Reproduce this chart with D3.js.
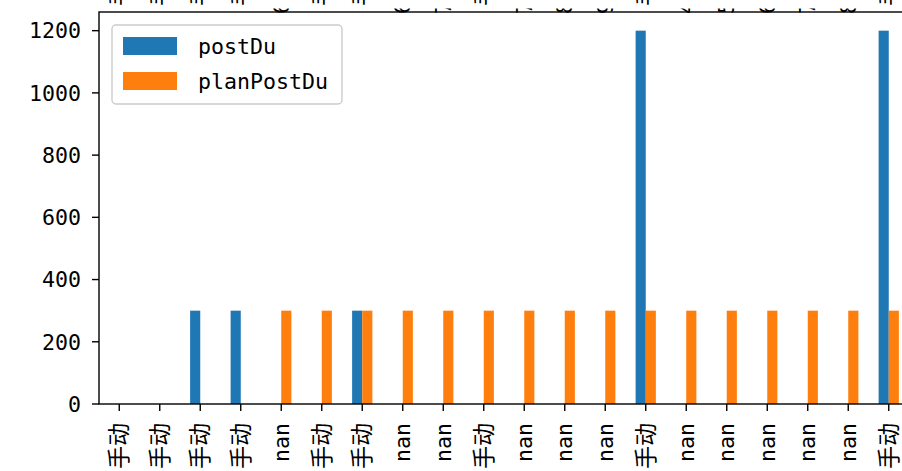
<!DOCTYPE html>
<html>
<head>
<meta charset="utf-8">
<script src="https://cdn.jsdelivr.net/npm/d3@7"></script>
<style>
  body { margin: 0; background: #fff; }
  svg { display: block; }
</style>
</head>
<body>
<div id="chart"></div>
<script>
// categories along the x axis
var categories = ["手动", "手动", "手动", "手动", "nan", "手动", "手动", "nan", "nan", "手动",
                  "nan", "nan", "nan", "手动", "nan", "nan", "nan", "nan", "nan", "手动"];
// null = missing value (no bar)
var postDu = [null, null, 300, 300, null, null, 300, null, null, null,
              null, null, null, 1200, null, null, null, null, null, 1200];
var planPostDu = [null, null, null, null, 300, 300, 300, 300, 300, 300,
                  300, 300, 300, 300, 300, 300, 300, 300, 300, 300];
var seriesNames = ["postDu", "planPostDu"];
var yTicks = [0, 200, 400, 600, 800, 1000, 1200];
// leftovers of the tick labels of the chart above (only their first glyph shows)
var upperLabels = ["手动", "手动", "手动", "手动", "6", "手动", "手动", "6", "7", "手动",
                   "7", "8", "9", "手动", "4", "5", "6", "7", "8", "手动"];

var WIDTH = 902, HEIGHT = 471;
var LEFT = 99, RIGHT = 909, TOP = 12, BOTTOM = 404;
var COLORS = ["#1f77b4", "#ff7f0e"];
var LATIN = "'DejaVu Sans Mono', 'Noto Sans CJK SC', monospace";
var CJK = "'Noto Sans CJK SC', 'DejaVu Sans Mono', sans-serif";

var svg = d3.select("#chart").append("svg")
    .attr("width", WIDTH)
    .attr("height", HEIGHT);

var x = d3.scaleLinear().domain([-0.5, categories.length - 0.5]).range([LEFT, RIGHT]);
var y = d3.scaleLinear().domain([0, 1260]).range([BOTTOM, TOP]);
var barW = 0.25;

// upper chart label fragments: chinese ones stick out of the top,
// digit ones only show a thin slice just above the top spine
svg.append("clipPath").attr("id", "digitclip")
    .append("rect").attr("x", 0).attr("y", 8.5).attr("width", WIDTH).attr("height", 6);

var upper = upperLabels.map(function(d, i) { return {i: i, t: d}; });
svg.append("g").selectAll("text")
    .data(upper.filter(function(d) { return d.t === "手动"; }))
    .enter().append("text")
    .attr("transform", function(d) { return "translate(" + x(d.i) + ",6) rotate(-90)"; })
    .attr("dy", "0.35em")
    .style("font-family", CJK)
    .style("font-size", "23px")
    .text(function(d) { return d.t; });
svg.append("g").attr("clip-path", "url(#digitclip)").selectAll("text")
    .data(upper.filter(function(d) { return d.t !== "手动"; }))
    .enter().append("text")
    .attr("transform", function(d) { return "translate(" + x(d.i) + ",14) rotate(-90)"; })
    .attr("dy", "0.35em")
    .style("font-family", LATIN)
    .style("font-size", "21.6px")
    .text(function(d) { return d.t; });

// bars, one group per series
[postDu, planPostDu].forEach(function(values, s) {
    svg.append("g").selectAll("rect")
        .data(values.map(function(v, i) { return {i: i, v: v}; })
                    .filter(function(d) { return d.v !== null; }))
        .enter().append("rect")
        .attr("x", function(d) { return x(d.i + (s - 1) * barW); })
        .attr("width", function(d) { return x(barW) - x(0); })
        .attr("y", function(d) { return y(d.v); })
        .attr("height", function(d) { return y(0) - y(d.v); })
        .attr("fill", COLORS[s]);
});

// y axis ticks and labels
var yAxis = svg.append("g");
yAxis.selectAll("line")
    .data(yTicks)
    .enter().append("line")
    .attr("x1", LEFT - 7).attr("x2", LEFT)
    .attr("y1", function(d) { return y(d); })
    .attr("y2", function(d) { return y(d); })
    .attr("stroke", "#000").attr("stroke-width", 1.4);
yAxis.selectAll("text")
    .data(yTicks)
    .enter().append("text")
    .attr("x", LEFT - 18)
    .attr("y", function(d) { return y(d); })
    .attr("dy", "0.36em")
    .attr("text-anchor", "end")
    .style("font-family", LATIN)
    .style("font-size", "21.6px")
    .text(function(d) { return d; });

// x axis ticks and rotated labels
var xAxis = svg.append("g");
xAxis.selectAll("line")
    .data(categories)
    .enter().append("line")
    .attr("x1", function(d, i) { return x(i); })
    .attr("x2", function(d, i) { return x(i); })
    .attr("y1", BOTTOM).attr("y2", BOTTOM + 7)
    .attr("stroke", "#000").attr("stroke-width", 1.4);
xAxis.selectAll("text")
    .data(categories)
    .enter().append("text")
    .attr("transform", function(d, i) { return "translate(" + x(i) + "," + 423 + ") rotate(-90)"; })
    .attr("dy", "0.35em")
    .attr("text-anchor", "end")
    .style("font-family", function(d) { return d === "nan" ? LATIN : CJK; })
    .style("font-size", function(d) { return d === "nan" ? "21.6px" : "23px"; })
    .text(function(d) { return d; });

// spines (right one falls outside the picture)
svg.append("rect")
    .attr("x", LEFT).attr("y", TOP)
    .attr("width", RIGHT - LEFT).attr("height", BOTTOM - TOP)
    .attr("fill", "none").attr("stroke", "#000").attr("stroke-width", 1.4);

// legend
var legend = svg.append("g").attr("transform", "translate(112,25)");
legend.append("rect")
    .attr("width", 230).attr("height", 79).attr("rx", 4)
    .attr("fill", "#fff").attr("fill-opacity", 0.8)
    .attr("stroke", "#cccccc").attr("stroke-width", 1.4);
seriesNames.forEach(function(name, s) {
    legend.append("rect")
        .attr("x", 11).attr("y", 12 + s * 35)
        .attr("width", 54).attr("height", 18)
        .attr("fill", COLORS[s]);
    legend.append("text")
        .attr("x", 86).attr("y", 21 + s * 35)
        .attr("dy", "0.36em")
        .style("font-family", LATIN)
        .style("font-size", "21.6px")
        .text(name);
});
</script>
</body>
</html>
